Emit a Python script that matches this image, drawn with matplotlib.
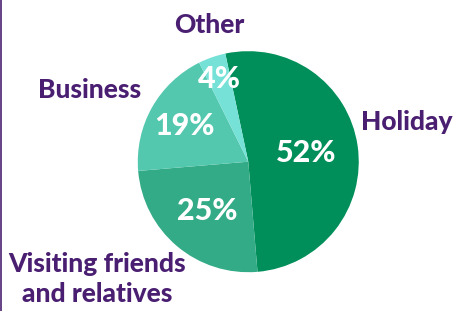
import numpy as np
import matplotlib.pyplot as plt

categories = ['Holiday', 'Visiting friends\nand relatives', 'Business', 'Other']
shares = [52, 25, 19, 4]
colors = ['#008f5a', '#33ab87', '#53c8ae', '#76e1d7']
purple = '#4a1f72'

fig = plt.figure(figsize=(4.55, 3.11), dpi=100)
ax = fig.add_axes([0, 0, 1, 1])

wedges, _ = ax.pie(shares, colors=colors, startangle=102, counterclock=False,
                   radius=1, center=(0, 0), wedgeprops=dict(linewidth=0))

# percentage labels inside each slice
pct_dist = [0.53, 0.58, 0.66, 0.79]
for w, s, d in zip(wedges, shares, pct_dist):
    mid = np.deg2rad((w.theta1 + w.theta2) / 2)
    ax.text(d * np.cos(mid), d * np.sin(mid), f'{s}%', color='white',
            fontsize=22, fontweight='black', family='Lato',
            ha='center', va='center')

# category labels round the pie
label_pos = [(1.436, 0.36), (-1.369, -1.06), (-1.439, 0.65), (-0.353, 1.237)]
for name, (x, y) in zip(categories, label_pos):
    ax.text(x, y, name, color=purple, fontsize=19, fontweight='black',
            family='Lato', ha='center', va='center', linespacing=1.3)

ax.set_xlim(-2.247, 1.871)
ax.set_ylim(-1.351, 1.463)
ax.set_aspect('auto')
ax.axis('off')

# thin border line on the left edge
fig.add_artist(plt.Line2D([0.003, 0.003], [0, 1], color=purple, linewidth=1.2,
                          transform=fig.transFigure))

fig.savefig('out.png', dpi=100)
